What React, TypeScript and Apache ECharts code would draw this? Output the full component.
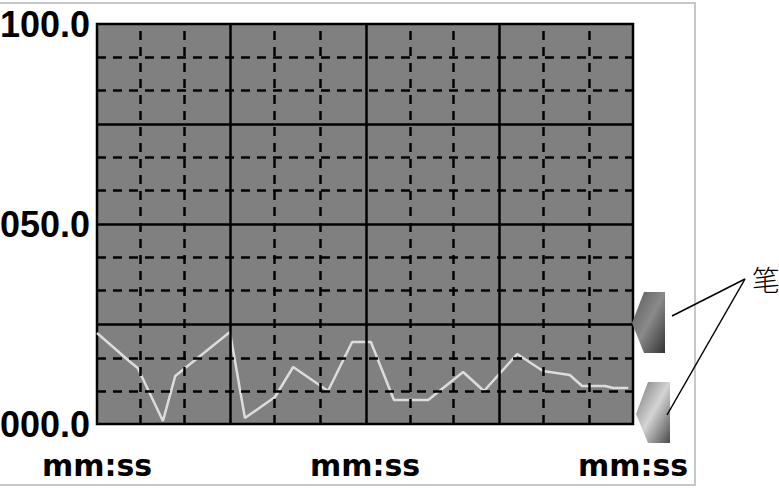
import React, { useEffect, useRef } from "react";
import * as echarts from "echarts";

const timeLabel = "mm:ss";
const xLabelPositions = [0, 50, 100];
const yLabelPositions = [0, 50, 100];
const xMajor = [24.8, 50.2, 75];
const xMinor = [8.0, 16.2, 33.0, 41.6, 58.4, 66.4, 83.2, 91.8];
const yMajor = [25, 50, 75];
const yMinor = [8.25, 16.5, 33.5, 41.75, 58.5, 66.75, 83.5, 91.75];
const penX = [0, 6.2, 7.6, 12.3, 14.6, 24.8, 27.6, 33.2, 36.6, 43.1, 47.6, 51.1, 55.4, 61.8, 68.3, 72.2, 78.4, 83.2, 88.2, 90.5, 94.8, 96.3, 99.1];
const penY = [22.75, 15.5, 14, 0.75, 12, 23, 1.5, 6.75, 14.25, 8.25, 20.5, 20.5, 6, 6, 13, 8.25, 17.5, 13.25, 12.25, 9.5, 9.5, 9, 9];
const annotation = "笔";

const gradient = (stops: [number, string][]) =>
  new echarts.graphic.LinearGradient(0, 0, 1, 1, stops.map(([offset, color]) => ({ offset, color })));

const vLines = (xs: number[]) => xs.map((xAxis) => ({ xAxis }));
const hLines = (ys: number[]) => ys.map((yAxis) => ({ yAxis }));

export default function App() {
  const ref = useRef<HTMLDivElement>(null);
  useEffect(() => {
    const chart = echarts.init(ref.current!, undefined, { renderer: "svg" });
    chart.setOption({
      animation: false,
      backgroundColor: "#fff",
      grid: { left: 97, top: 24, width: 536, height: 400, outerBoundsMode: "none", show: true, backgroundColor: "#808080", borderColor: "#000", borderWidth: 2.5 },
      xAxis: {
        type: "value", min: 0, max: 100, interval: 25,
        axisLine: { show: false }, axisTick: { show: false }, splitLine: { show: false },
        axisLabel: { customValues: xLabelPositions, formatter: () => timeLabel, margin: 26, color: "#000", fontFamily: "DejaVu Sans", fontWeight: "bold", fontSize: 30 },
      },
      yAxis: {
        type: "value", min: 0, max: 100, interval: 25,
        axisLine: { show: false }, axisTick: { show: false }, splitLine: { show: false },
        axisLabel: { customValues: yLabelPositions, formatter: (v: number) => v.toFixed(1).padStart(5, "0"), margin: 7, color: "#000", fontFamily: "Liberation Sans", fontWeight: "bold", fontSize: 36 },
      },
      series: [
        {
          type: "line", data: [], z: 1, silent: true,
          markLine: {
            silent: true, symbol: "none", label: { show: false }, animation: false,
            lineStyle: { color: "#000", width: 2.5, type: [9, 7], opacity: 1 },
            data: [...vLines(xMinor), ...hLines(yMinor)],
          },
        },
        {
          type: "line", data: [], z: 2, silent: true,
          markLine: {
            silent: true, symbol: "none", label: { show: false }, animation: false,
            lineStyle: { color: "#000", width: 2.5, type: "solid", opacity: 1 },
            data: [...vLines(xMajor), ...hLines(yMajor)],
          },
        },
        {
          type: "line", z: 3, symbol: "none", clip: false,
          lineStyle: { color: "#dcdcdc", width: 2.5 },
          data: penX.map((x, i) => [x, penY[i]]),
        },
      ],
      graphic: [
        { type: "polyline", z: 0, shape: { points: [[0, 3], [695, 3], [695, 485], [0, 485]] }, style: { stroke: "#c8c8c8", lineWidth: 2, fill: "none" } },
        {
          type: "polygon", z: 10,
          shape: { points: [[632, 323], [644, 292], [665, 292], [665, 353], [644, 353]] },
          style: { fill: gradient([[0, "#5a5a5a"], [0.5, "#8a8a8a"], [1, "#333"]]) },
        },
        {
          type: "polygon", z: 10,
          shape: { points: [[636, 414], [648, 382], [670, 382], [670, 443], [648, 443]] },
          style: { fill: gradient([[0, "#777"], [0.5, "#d4d4d4"], [1, "#4a4a4a"]]) },
        },
        { type: "line", z: 11, shape: { x1: 672, y1: 316, x2: 745, y2: 279 }, style: { stroke: "#000", lineWidth: 1.5 } },
        { type: "line", z: 11, shape: { x1: 667, y1: 415, x2: 745, y2: 279 }, style: { stroke: "#000", lineWidth: 1.5 } },
        { type: "text", z: 11, x: 752, y: 265, style: { text: annotation, fill: "#000", fontFamily: "Noto Sans CJK SC", fontWeight: 300, fontSize: 28 } },
      ],
    });
    return () => chart.dispose();
  }, []);
  return <div ref={ref} style={{ position: "fixed", left: 0, top: 0, width: 779, height: 488 }} />;
}
